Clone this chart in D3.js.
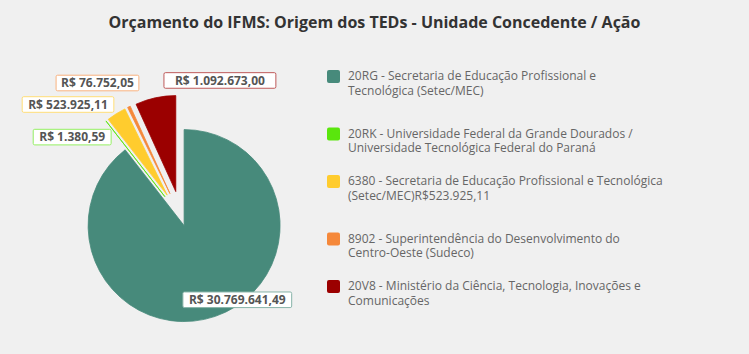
<!DOCTYPE html>
<html>
<head>
<meta charset="utf-8">
<script src="https://cdn.jsdelivr.net/npm/d3@7"></script>
<style>
	html, body { margin: 0; padding: 0; background: #f0f0f0; }
	svg { display: block; font-family: 'Open Sans', sans-serif; }
</style>
</head>
<body>
<div id="chart"></div>
<script>
const title = 'Orçamento do IFMS: Origem dos TEDs - Unidade Concedente / Ação';

const categories = [
	'20RG - Secretaria de Educação Profissional e\nTecnológica (Setec/MEC)',
	'20RK - Universidade Federal da Grande Dourados /\nUniversidade Tecnológica Federal do Paraná',
	'6380 - Secretaria de Educação Profissional e Tecnológica\n(Setec/MEC)R$523.925,11',
	'8902 - Superintendência do Desenvolvimento do\nCentro-Oeste (Sudeco)',
	'20V8 - Ministério da Ciência, Tecnologia, Inovações e\nComunicações'
];

// amounts shown in the labels
const amounts = [30769641.49, 1380.59, 523925.11, 76752.05, 1092673.00];

// slice sizes as drawn in the picture (the big slice is drawn smaller than its label)
const sliceSizes = [14400000, 1380.59, 523925.11, 76752.05, 1092673.00];

const colors = ['#478a7b', '#5ae60d', '#ffcc2e', '#f5883a', '#9b0000'];

const width = 749,
	height = 354,
	radius = 96,
	cx = 181.5,
	cy = 218;

// explode distance per slice
const explode = [8, 27, 27, 27, 27];

// label box centre, polar from pie centre (degrees clockwise from top), and box padding
const labelLayout = [
	{ angle: 145.7, dist: 99, pad: 6 },
	{ angle: -53.5, dist: 136, pad: 6 },
	{ angle: -45, dist: 160.5, pad: 6 },
	{ angle: -31.9, dist: 159, pad: 5 },
	{ angle: 15.6, dist: 142.8, pad: 11 }
];

const brl = d3.formatLocale({
	decimal: ',',
	thousands: '.',
	grouping: [3],
	currency: ['R$ ', '']
}).format('$,.2f');

let svg = d3.select('#chart').append('svg')
	.attr('width', width)
	.attr('height', height);

svg.append('rect')
	.attr('width', width)
	.attr('height', height)
	.attr('fill', '#f0f0f0');

svg.append('text')
	.attr('x', width / 2)
	.attr('y', 28)
	.attr('text-anchor', 'middle')
	.attr('font-size', '16px')
	.attr('font-weight', 'bold')
	.attr('fill', '#333')
	.text(title);

let pie = d3.pie().sort(null).value((d) => d);
let arcs = pie(sliceSizes);

let arc = d3.arc().innerRadius(0).outerRadius(radius);

let pieGroup = svg.append('g')
	.attr('transform', `translate(${cx},${cy})`);

pieGroup.selectAll('.slice')
	.data(arcs)
	.enter()
	.append('path')
	.attr('class', 'slice')
	.attr('d', arc)
	.attr('fill', (d, i) => colors[i])
	.attr('stroke', (d, i) => colors[i])
	.attr('stroke-width', 0.8)
	.attr('stroke-linejoin', 'round')
	.attr('transform', (d, i) => {
		let mid = (d.startAngle + d.endAngle) / 2;
		return `translate(${explode[i] * Math.sin(mid)},${-explode[i] * Math.cos(mid)})`;
	});

// data labels
let labels = pieGroup.selectAll('.label')
	.data(arcs)
	.enter()
	.append('g')
	.attr('class', 'label')
	.attr('transform', (d, i) => {
		let a = labelLayout[i].angle * Math.PI / 180;
		return `translate(${labelLayout[i].dist * Math.sin(a)},${-labelLayout[i].dist * Math.cos(a)})`;
	});

labels.each(function(d, i) {
	let g = d3.select(this);
	let rect = g.append('rect');
	let txt = g.append('text')
		.attr('text-anchor', 'middle')
		.attr('y', 4.3)
		.attr('font-size', '12px')
		.attr('font-weight', 'bold')
		.attr('fill', '#555')
		.text(brl(amounts[i]));

	let w = txt.node().getComputedTextLength() + 2 * labelLayout[i].pad;
	rect.attr('x', -w / 2)
		.attr('y', -7.8)
		.attr('width', w)
		.attr('height', 15.6)
		.attr('rx', 1.5)
		.attr('fill', '#fff')
		.attr('stroke', d3.interpolateRgb(colors[i], '#fff')(0.35))
		.attr('stroke-width', 1);
});

// legend
let legend = svg.append('g')
	.attr('class', 'legend')
	.attr('transform', 'translate(327,70)');

let items = legend.selectAll('.legend-item')
	.data(categories)
	.enter()
	.append('g')
	.attr('class', 'legend-item')
	.attr('transform', (d, i) => `translate(0,${i * 52.5 + (i % 2) * 5})`);

items.append('rect')
	.attr('width', 13)
	.attr('height', 13)
	.attr('rx', 2)
	.attr('fill', (d, i) => colors[i]);

items.append('text')
	.attr('x', 21)
	.attr('y', 10)
	.attr('font-size', '12px')
	.attr('fill', '#666')
	.selectAll('tspan')
	.data((d) => d.split('\n'))
	.enter()
	.append('tspan')
	.attr('x', 21)
	.attr('dy', (d, j) => j === 0 ? 0 : 14.5)
	.text((d) => d);
</script>
</body>
</html>
